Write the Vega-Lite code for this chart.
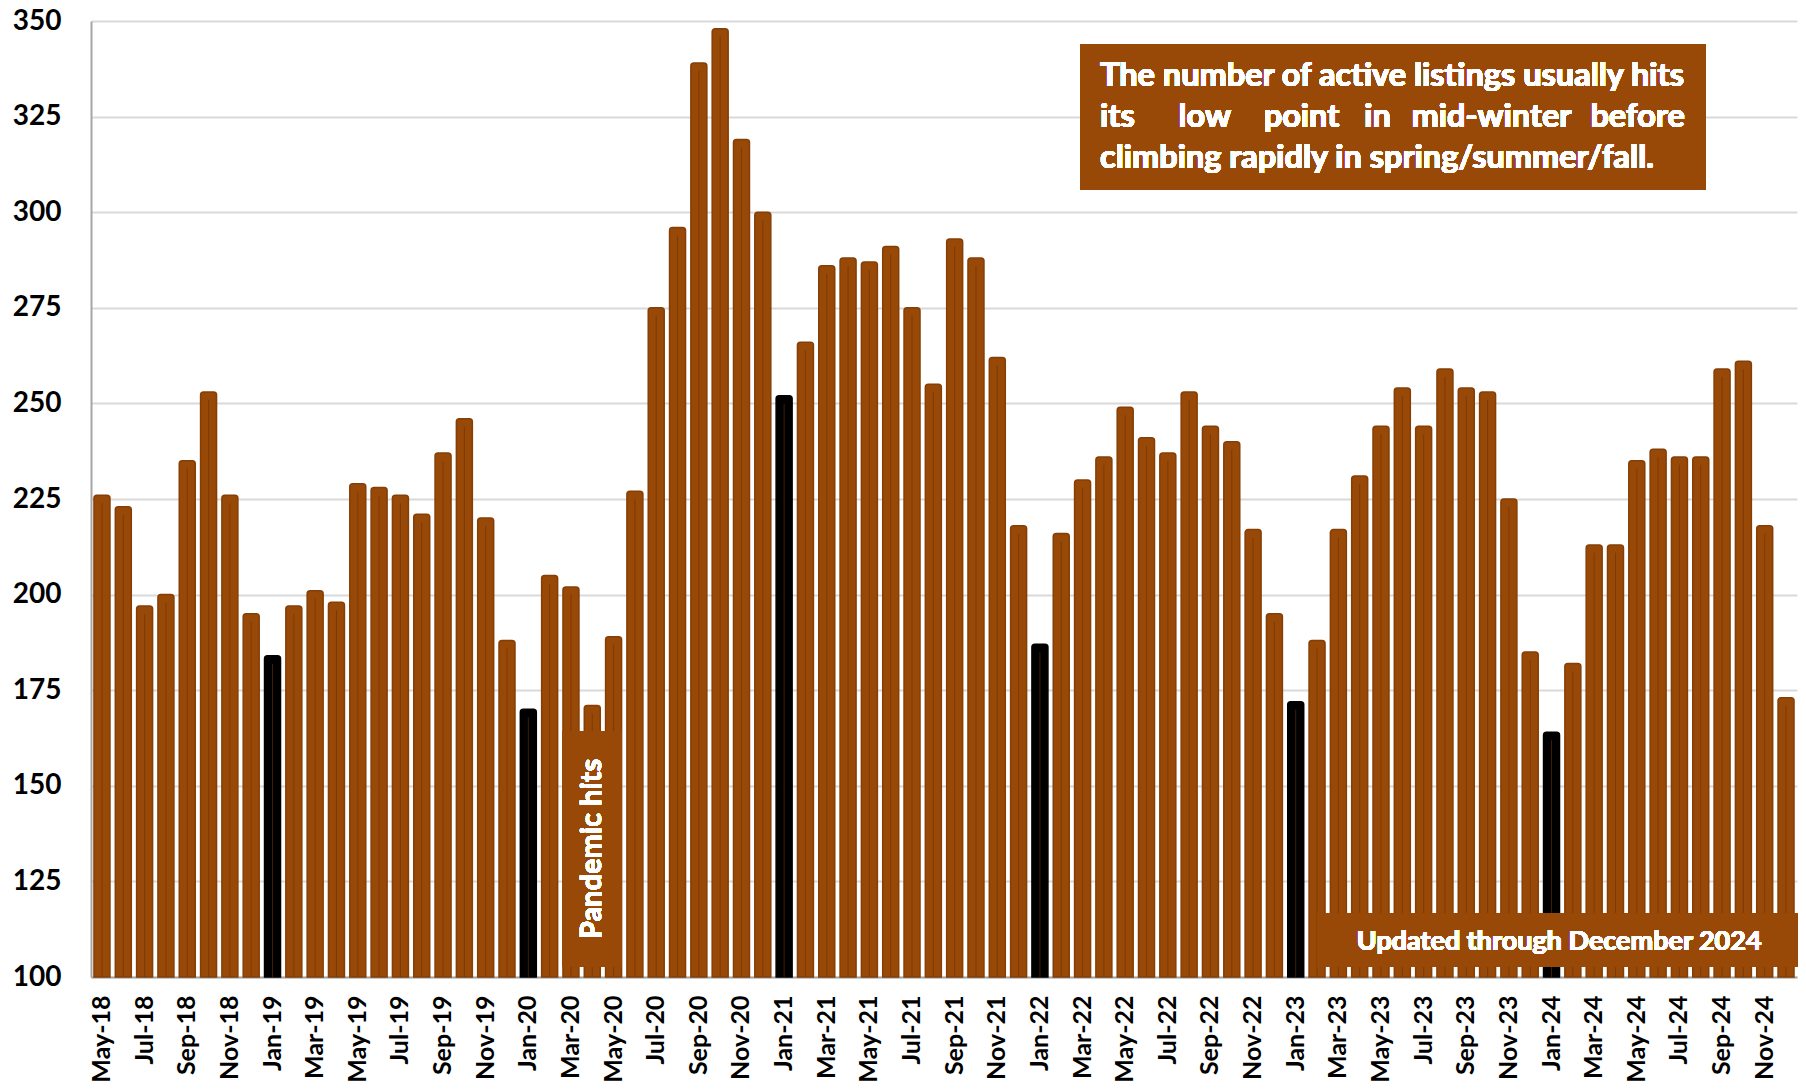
{
  "$schema": "https://vega.github.io/schema/vega-lite/v6.json",
  "width": 1706,
  "height": 956,
  "autosize": {"type": "none"},
  "padding": {"left": 91, "top": 21, "right": 9, "bottom": 112},
  "background": "white",
  "config": {
    "view": {"stroke": null},
    "font": "Lato",
    "text": {"font": "Lato", "fontWeight": "bold", "color": "white"}
  },
  "data": {
    "values": [
      {"ym": "2018-05", "v": 226}, {"ym": "2018-06", "v": 223}, {"ym": "2018-07", "v": 197}, {"ym": "2018-08", "v": 200},
      {"ym": "2018-09", "v": 235}, {"ym": "2018-10", "v": 253}, {"ym": "2018-11", "v": 226}, {"ym": "2018-12", "v": 195},
      {"ym": "2019-01", "v": 184}, {"ym": "2019-02", "v": 197}, {"ym": "2019-03", "v": 201}, {"ym": "2019-04", "v": 198},
      {"ym": "2019-05", "v": 229}, {"ym": "2019-06", "v": 228}, {"ym": "2019-07", "v": 226}, {"ym": "2019-08", "v": 221},
      {"ym": "2019-09", "v": 237}, {"ym": "2019-10", "v": 246}, {"ym": "2019-11", "v": 220}, {"ym": "2019-12", "v": 188},
      {"ym": "2020-01", "v": 170}, {"ym": "2020-02", "v": 205}, {"ym": "2020-03", "v": 202}, {"ym": "2020-04", "v": 171},
      {"ym": "2020-05", "v": 189}, {"ym": "2020-06", "v": 227}, {"ym": "2020-07", "v": 275}, {"ym": "2020-08", "v": 296},
      {"ym": "2020-09", "v": 339}, {"ym": "2020-10", "v": 348}, {"ym": "2020-11", "v": 319}, {"ym": "2020-12", "v": 300},
      {"ym": "2021-01", "v": 252}, {"ym": "2021-02", "v": 266}, {"ym": "2021-03", "v": 286}, {"ym": "2021-04", "v": 288},
      {"ym": "2021-05", "v": 287}, {"ym": "2021-06", "v": 291}, {"ym": "2021-07", "v": 275}, {"ym": "2021-08", "v": 255},
      {"ym": "2021-09", "v": 293}, {"ym": "2021-10", "v": 288}, {"ym": "2021-11", "v": 262}, {"ym": "2021-12", "v": 218},
      {"ym": "2022-01", "v": 187}, {"ym": "2022-02", "v": 216}, {"ym": "2022-03", "v": 230}, {"ym": "2022-04", "v": 236},
      {"ym": "2022-05", "v": 249}, {"ym": "2022-06", "v": 241}, {"ym": "2022-07", "v": 237}, {"ym": "2022-08", "v": 253},
      {"ym": "2022-09", "v": 244}, {"ym": "2022-10", "v": 240}, {"ym": "2022-11", "v": 217}, {"ym": "2022-12", "v": 195},
      {"ym": "2023-01", "v": 172}, {"ym": "2023-02", "v": 188}, {"ym": "2023-03", "v": 217}, {"ym": "2023-04", "v": 231},
      {"ym": "2023-05", "v": 244}, {"ym": "2023-06", "v": 254}, {"ym": "2023-07", "v": 244}, {"ym": "2023-08", "v": 259},
      {"ym": "2023-09", "v": 254}, {"ym": "2023-10", "v": 253}, {"ym": "2023-11", "v": 225}, {"ym": "2023-12", "v": 185},
      {"ym": "2024-01", "v": 164}, {"ym": "2024-02", "v": 182}, {"ym": "2024-03", "v": 213}, {"ym": "2024-04", "v": 213},
      {"ym": "2024-05", "v": 235}, {"ym": "2024-06", "v": 238}, {"ym": "2024-07", "v": 236}, {"ym": "2024-08", "v": 236},
      {"ym": "2024-09", "v": 259}, {"ym": "2024-10", "v": 261}, {"ym": "2024-11", "v": 218}, {"ym": "2024-12", "v": 173}
    ]
  },
  "layer": [
    {
      "mark": {"type": "bar", "strokeWidth": 1.5, "cornerRadiusTopLeft": 3, "cornerRadiusTopRight": 3},
      "encoding": {
        "x": {
          "field": "ym",
          "type": "ordinal",
          "scale": {"paddingInner": 0.25, "paddingOuter": 0.14},
          "axis": {
            "title": null,
            "labelAngle": 270,
            "labelExpr": "month(toDate(datum.value + '-15T12:00:00')) % 2 == 0 ? timeFormat(toDate(datum.value + '-15T12:00:00'), '%b-%y') : ''",
            "labelOverlap": false,
            "ticks": false,
            "labelPadding": 18,
            "labelFont": "Lato",
            "labelFontSize": 25,
            "labelFontWeight": "bold",
            "labelColor": "black",
            "domainColor": "#a6a6a6",
            "domainWidth": 2,
            "grid": false
          }
        },
        "y": {
          "field": "v",
          "type": "quantitative",
          "scale": {"domain": [100, 350], "zero": false, "nice": false},
          "axis": {
            "title": null,
            "values": [100, 125, 150, 175, 200, 225, 250, 275, 300, 325, 350],
            "ticks": false,
            "labelPadding": 30,
            "labelFont": "Lato",
            "labelFontSize": 28,
            "labelFontWeight": "bold",
            "labelColor": "black",
            "domainColor": "#a6a6a6",
            "domainWidth": 2,
            "gridColor": "#d9d9d9",
            "gridWidth": 2
          }
        },
        "y2": {"datum": 100},
        "color": {
          "condition": {"test": "substring(datum.ym, 5) == '01'", "value": "#000000"},
          "value": "#984807"
        },
        "stroke": {
          "condition": {"test": "substring(datum.ym, 5) == '01'", "value": "#000000"},
          "value": "#853f06"
        }
      }
    },
    {
      "mark": {"type": "rule", "color": "#6a3204", "strokeWidth": 1, "opacity": 0.6, "yOffset": 8},
      "encoding": {
        "x": {"field": "ym", "type": "ordinal"},
        "y": {"field": "v", "type": "quantitative"},
        "y2": {"datum": 100}
      }
    },
    {
      "mark": {"type": "rect", "color": "#984807"},
      "encoding": {
        "x": {"datum": "2020-03", "type": "ordinal", "bandPosition": 0},
        "x2": {"datum": "2020-05", "bandPosition": 1},
        "y": {"datum": 164.3, "type": "quantitative"},
        "y2": {"datum": 102.6}
      }
    },
    {
      "mark": {"type": "text", "text": "Pandemic hits", "angle": 270, "fontSize": 29, "align": "center", "baseline": "middle"},
      "encoding": {
        "x": {"datum": "2020-04", "type": "ordinal", "bandPosition": 0.5},
        "y": {"datum": 133.5, "type": "quantitative"}
      }
    },
    {
      "mark": {"type": "rect", "color": "#984807"},
      "encoding": {
        "x": {"datum": "2022-03", "type": "ordinal", "bandPosition": 0.4},
        "x2": {"datum": "2024-08", "bandPosition": 0.8},
        "y": {"datum": 344, "type": "quantitative"},
        "y2": {"datum": 305.8}
      }
    },
    {
      "mark": {"type": "text", "text": "The number of active listings usually hits", "fontSize": 32.5, "align": "left", "baseline": "alphabetic"},
      "encoding": {
        "x": {"datum": "2022-04", "type": "ordinal", "bandPosition": 0.26},
        "y": {"datum": 333, "type": "quantitative"}
      }
    },
    {
      "mark": {"type": "text", "text": "its", "fontSize": 32.5, "align": "left", "baseline": "alphabetic"},
      "encoding": {
        "x": {"datum": "2022-04", "type": "ordinal", "bandPosition": 0.26},
        "y": {"datum": 322.3, "type": "quantitative"}
      }
    },
    {
      "mark": {"type": "text", "text": "low", "fontSize": 32.5, "align": "center", "baseline": "alphabetic"},
      "encoding": {
        "x": {"datum": "2022-09", "type": "ordinal", "bandPosition": 0.14},
        "y": {"datum": 322.3, "type": "quantitative"}
      }
    },
    {
      "mark": {"type": "text", "text": "point", "fontSize": 32.5, "align": "center", "baseline": "alphabetic"},
      "encoding": {
        "x": {"datum": "2023-01", "type": "ordinal", "bandPosition": 0.86},
        "y": {"datum": 322.3, "type": "quantitative"}
      }
    },
    {
      "mark": {"type": "text", "text": "in", "fontSize": 32.5, "align": "center", "baseline": "alphabetic"},
      "encoding": {
        "x": {"datum": "2023-05", "type": "ordinal", "bandPosition": 0.28},
        "y": {"datum": 322.3, "type": "quantitative"}
      }
    },
    {
      "mark": {"type": "text", "text": "mid-winter", "fontSize": 32.5, "align": "center", "baseline": "alphabetic"},
      "encoding": {
        "x": {"datum": "2023-10", "type": "ordinal", "bandPosition": 0.74},
        "y": {"datum": 322.3, "type": "quantitative"}
      }
    },
    {
      "mark": {"type": "text", "text": "before", "fontSize": 32.5, "align": "right", "baseline": "alphabetic"},
      "encoding": {
        "x": {"datum": "2024-07", "type": "ordinal", "bandPosition": 0.84},
        "y": {"datum": 322.3, "type": "quantitative"}
      }
    },
    {
      "mark": {"type": "text", "text": "climbing rapidly in spring/summer/fall.", "fontSize": 32.5, "align": "left", "baseline": "alphabetic"},
      "encoding": {
        "x": {"datum": "2022-04", "type": "ordinal", "bandPosition": 0.26},
        "y": {"datum": 311.6, "type": "quantitative"}
      }
    },
    {
      "mark": {"type": "rect", "color": "#984807"},
      "encoding": {
        "x": {"datum": "2023-02", "type": "ordinal", "bandPosition": 0.5},
        "x2": {"datum": "2024-12", "bandPosition": 1.2},
        "y": {"datum": 116.7, "type": "quantitative"},
        "y2": {"datum": 102.6}
      }
    },
    {
      "mark": {"type": "text", "text": "Updated through December 2024", "fontSize": 27, "align": "center", "baseline": "alphabetic"},
      "encoding": {
        "x": {"datum": "2024-01", "type": "ordinal", "bandPosition": 0.98},
        "y": {"datum": 107.1, "type": "quantitative"}
      }
    }
  ]
}
